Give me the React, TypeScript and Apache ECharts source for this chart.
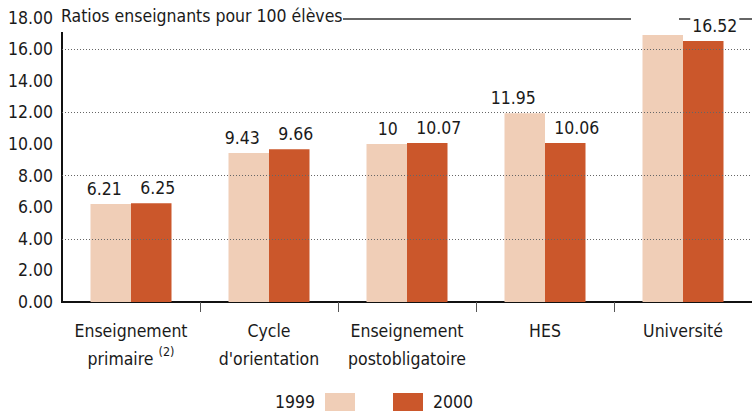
import React, { useEffect, useRef } from "react";
import * as echarts from "echarts";

const categories = [
  "Enseignement\nprimaire {sup|(2)}",
  "Cycle\nd'orientation",
  "Enseignement\npostobligatoire",
  "HES",
  "Université",
];
const values1999 = [6.21, 9.43, 10, 11.95, 16.9];
const values2000 = [6.25, 9.66, 10.07, 10.06, 16.52];
const labelShown1999 = [true, true, true, true, false];
const gridLines = [4, 8, 12, 16];
const yTitle = "Ratios enseignants pour 100 élèves";

const FONT = "'DejaVu Sans Condensed', 'Liberation Sans Narrow', sans-serif";
const FS = 17.5;
const C1999 = "#F0CEB7";
const C2000 = "#CB572B";
const TXT = "#1a1a1a";

export default function App() {
  const ref = useRef<HTMLDivElement>(null);
  useEffect(() => {
    if (!ref.current) return;
    const chart = echarts.init(ref.current, null, { renderer: "svg" });
    chart.setOption({
      animation: false,
      textStyle: { fontFamily: FONT },
      grid: { left: 62, top: 17.6, bottom: 111, width: 694, containLabel: false },
      legend: [
        {
          data: ["1999"],
          right: 392,
          top: 388,
          align: "right",
          itemWidth: 30,
          itemHeight: 18,
          itemGap: 0,
          icon: "rect",
          textStyle: { fontFamily: FONT, fontSize: FS, lineHeight: 18, color: TXT, padding: [0, 5, 0, 0] },
        },
        {
          data: ["2000"],
          left: 388,
          top: 388,
          align: "left",
          itemWidth: 30,
          itemHeight: 18,
          itemGap: 0,
          icon: "rect",
          textStyle: { fontFamily: FONT, fontSize: FS, lineHeight: 18, color: TXT, padding: [0, 0, 0, 5] },
        },
      ],
      xAxis: {
        type: "category",
        data: categories,
        axisLine: { show: true, lineStyle: { color: "#111", width: 2 } },
        axisTick: {
          show: true,
          length: 10,
          lineStyle: { color: "#555", width: 1 },
          interval: (i: number) => i > 0,
        },
        axisLabel: {
          margin: 15,
          fontFamily: FONT,
          fontSize: FS,
          color: TXT,
          lineHeight: 28,
          interval: 0,
          rich: {
            sup: { fontFamily: FONT, fontSize: 12.5, color: TXT, verticalAlign: "top", lineHeight: 22 },
          },
        },
      },
      yAxis: {
        type: "value",
        min: 0,
        max: 18,
        interval: 2,
        axisLine: { show: false },
        axisTick: { show: false },
        splitLine: { show: false },
        axisLabel: {
          margin: 9,
          fontFamily: FONT,
          fontSize: FS,
          color: TXT,
          formatter: (v: number) => v.toFixed(2),
        },
      },
      series: [
        {
          type: "line",
          data: [],
          z: 1,
          silent: true,
          markLine: {
            silent: true,
            symbol: "none",
            label: { show: false },
            lineStyle: { color: "#666", type: [1, 2], width: 1 },
            data: gridLines.map((v) => ({ yAxis: v })),
          },
        },
        {
          name: "1999",
          type: "bar",
          z: 3,
          barWidth: 40.5,
          barGap: "0%",
          itemStyle: { color: C1999 },
          label: {
            show: true,
            position: "top",
            distance: 6,
            align: "right",
            offset: [11, 0],
            fontFamily: FONT,
            fontSize: FS,
            color: TXT,
          },
          data: values1999.map((v, i) => ({ value: v, label: { show: labelShown1999[i] } })),
        },
        {
          name: "2000",
          type: "bar",
          z: 3,
          barWidth: 40.5,
          barGap: "0%",
          itemStyle: { color: C2000 },
          label: {
            show: true,
            position: "top",
            distance: 6,
            align: "left",
            offset: [-13, 0],
            fontFamily: FONT,
            fontSize: FS,
            color: TXT,
            backgroundColor: "#fff",
            padding: [1, 2, 0, 2],
          },
          data: values2000,
        },
      ],
      graphic: [
        {
          type: "text",
          left: 61,
          top: 7,
          z: 10,
          style: { text: yTitle, fontFamily: FONT, fontSize: FS, fill: TXT },
        },
        {
          type: "line",
          z: 1,
          shape: { x1: 343, y1: 19, x2: 631, y2: 19 },
          style: { stroke: "#333", lineWidth: 1.5 },
        },
        {
          type: "line",
          z: 1,
          shape: { x1: 679, y1: 19, x2: 752, y2: 19 },
          style: { stroke: "#333", lineWidth: 1.5 },
        },
        {
          type: "line",
          z: 5,
          shape: { x1: 62, y1: 32, x2: 62, y2: 303 },
          style: { stroke: "#111", lineWidth: 2 },
        },
      ],
    });
    return () => chart.dispose();
  }, []);
  return <div ref={ref} style={{ width: 752, height: 413, position: "absolute", left: 0, top: 0 }} />;
}
